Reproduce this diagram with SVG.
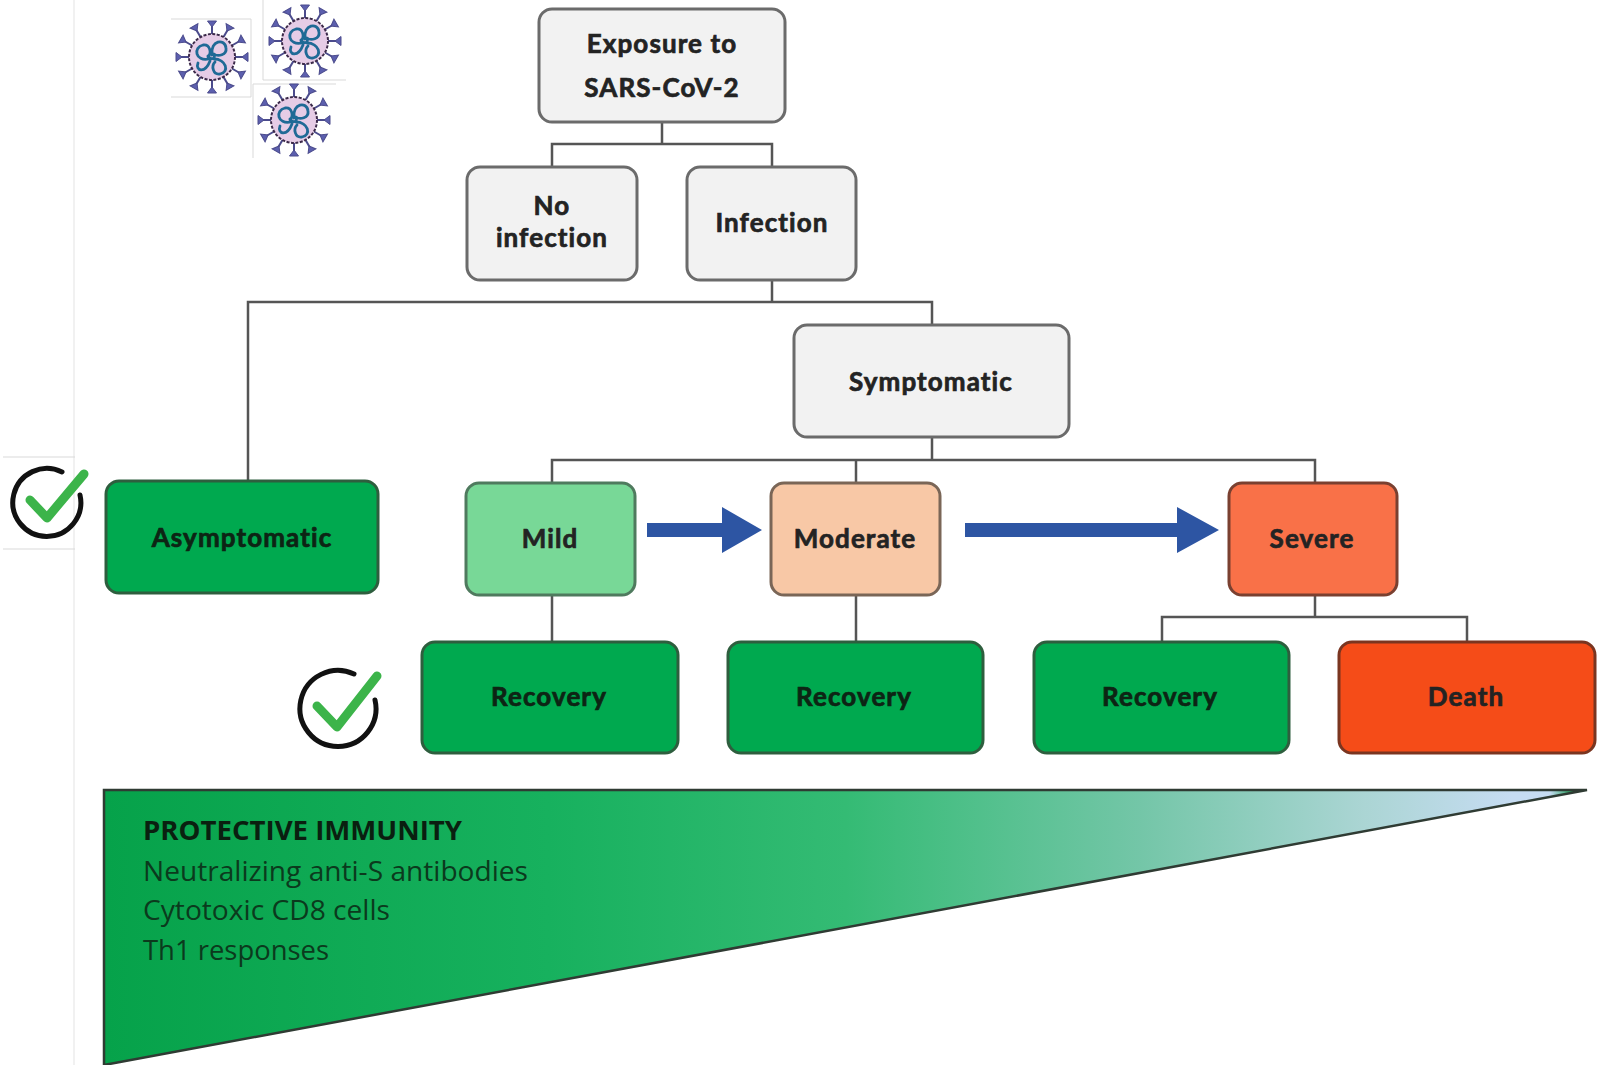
<svg xmlns="http://www.w3.org/2000/svg" width="1603" height="1065" viewBox="0 0 1603 1065">
  <style>
    .node-grey rect { fill: #f2f2f2; stroke: #6b6b6b; stroke-width: 3; }
    .node-green rect { fill: #00a94f; stroke: #2e5e3e; stroke-width: 3; }
    .node-mild rect { fill: #78d897; stroke: #4f7a5e; stroke-width: 3; }
    .node-moderate rect { fill: #f8c8a6; stroke: #7a6657; stroke-width: 3; }
    .node-severe rect { fill: #f97148; stroke: #7a4030; stroke-width: 3; }
    .node-death rect { fill: #f54c18; stroke: #7a3520; stroke-width: 3; }
    .label { font-family: "Lato", "Open Sans", "Liberation Sans", sans-serif; font-weight: 700; font-size: 26px; letter-spacing: 1.1px; fill: #232323; stroke: #232323; stroke-width: 0.7; text-anchor: middle; }
    .label-dark { fill: #0d2414; stroke: #0d2414; }
    .conn { fill: none; stroke: #555; stroke-width: 2.5; }
    .frame { fill: none; stroke: #d9d9d9; stroke-width: 1; }
    .imm { font-family: "Open Sans", "Liberation Sans", sans-serif; font-size: 27px; fill: #0b3a1d; }
    .imm-title { font-weight: 700; fill: #0a1f10; }
    .ring { fill: none; stroke: #111; stroke-width: 5; stroke-linecap: round; }
    .tick { fill: none; stroke: #3cb44a; stroke-width: 9; stroke-linecap: round; stroke-linejoin: round; }
  </style>
  <defs>
    <linearGradient id="immGrad" x1="104" y1="0" x2="1587" y2="0" gradientUnits="userSpaceOnUse">
      <stop offset="0" stop-color="#06a24a"/>
      <stop offset="0.3" stop-color="#17b15e"/>
      <stop offset="0.5" stop-color="#34bb74"/>
      <stop offset="0.7" stop-color="#74c6a8"/>
      <stop offset="0.85" stop-color="#abd5d4"/>
      <stop offset="0.95" stop-color="#c6dcf2"/>
      <stop offset="0.975" stop-color="#c6dcf2"/>
      <stop offset="0.99" stop-color="#1d9e55"/>
      <stop offset="1" stop-color="#1d9e55"/>
    </linearGradient>
    <g id="virus">
      <g stroke="#4b4b8c" stroke-width="2" fill="#5c5fae">
        <g id="spike">
          <line x1="0" y1="-23" x2="0" y2="-31"/>
          <path d="M0 -30 L-4.5 -36 L4.5 -36 Z" stroke-width="1"/>
        </g>
        <use href="#spike" transform="rotate(30)"/>
        <use href="#spike" transform="rotate(60)"/>
        <use href="#spike" transform="rotate(90)"/>
        <use href="#spike" transform="rotate(120)"/>
        <use href="#spike" transform="rotate(150)"/>
        <use href="#spike" transform="rotate(180)"/>
        <use href="#spike" transform="rotate(210)"/>
        <use href="#spike" transform="rotate(240)"/>
        <use href="#spike" transform="rotate(270)"/>
        <use href="#spike" transform="rotate(300)"/>
        <use href="#spike" transform="rotate(330)"/>
      </g>
      <circle r="23" fill="#e6cce6" stroke="#3c2a4a" stroke-width="2" stroke-dasharray="3 1.5"/>
      <g fill="none" stroke="#1f6a96" stroke-width="2.8" stroke-linecap="round">
        <path d="M-3 2 C-17 5 -19 -10 -9 -12 C-2 -13 0 -4 -4 0"/>
        <path d="M0 -2 C-2 -17 13 -19 14 -9 C15 -2 6 0 2 -3"/>
        <path d="M2 2 C14 2 18 15 8 17 C1 18 -1 9 3 5"/>
        <path d="M-2 4 C-7 17 -17 14 -14 6"/>
        <path d="M-4 -1 C-1 4 4 1 2 -2"/>
      </g>
    </g>
  </defs>

  <!-- page edge and icon frames -->
  <line x1="74" y1="0" x2="74" y2="1065" stroke="#ececec" stroke-width="1.5"/>
  <g id="virus-icons">
    <path class="frame" d="M171 19 H251 M171 97 H251 M251 19 V97"/>
    <path class="frame" d="M263 0 V80 H346"/>
    <path class="frame" d="M253 84 H336 M253 84 V158"/>
    <use href="#virus" transform="translate(212,57)"/>
    <use href="#virus" transform="translate(305,41)"/>
    <use href="#virus" transform="translate(294,120)"/>
  </g>

  <!-- connectors -->
  <g id="connectors">
    <path class="conn" d="M662 123 V144 M552 167 V144 H772 V167"/>
    <path class="conn" d="M772 280 V302 M248 481 V302 H932 V325"/>
    <path class="conn" d="M932 437 V460 M552 483 V460 H1315 V483 M856 460 V483"/>
    <path class="conn" d="M552 595 V642 M856 595 V642"/>
    <path class="conn" d="M1315 595 V617 M1162 642 V617 H1467 V642"/>
    <!-- progression arrows -->
    <path d="M647 523 H722 V507 L762 530 L722 553 V537 H647 Z" fill="#2d55a3"/>
    <path d="M965 523 H1177 V507 L1219 530 L1177 553 V537 H965 Z" fill="#2d55a3"/>
  </g>

  <!-- nodes -->
  <g id="exposure" class="node-grey">
    <rect x="539" y="9" width="246" height="113" rx="13"/>
    <text class="label" x="662" y="53">Exposure to</text>
    <text class="label" x="662" y="97">SARS-CoV-2</text>
  </g>
  <g id="no-infection" class="node-grey">
    <rect x="467" y="167" width="170" height="113" rx="13"/>
    <text class="label" x="552" y="215">No</text>
    <text class="label" x="552" y="247">infection</text>
  </g>
  <g id="infection" class="node-grey">
    <rect x="687" y="167" width="169" height="113" rx="13"/>
    <text class="label" x="772" y="232">Infection</text>
  </g>
  <g id="symptomatic" class="node-grey">
    <rect x="794" y="325" width="275" height="112" rx="13"/>
    <text class="label" x="931" y="391">Symptomatic</text>
  </g>
  <g id="asymptomatic" class="node-green">
    <rect x="106" y="481" width="272" height="112" rx="13"/>
    <text class="label label-dark" x="242" y="547">Asymptomatic</text>
  </g>
  <g id="mild" class="node-mild">
    <rect x="466" y="483" width="169" height="112" rx="13"/>
    <text class="label" x="550" y="548">Mild</text>
  </g>
  <g id="moderate" class="node-moderate">
    <rect x="771" y="483" width="169" height="112" rx="13"/>
    <text class="label" x="855" y="548">Moderate</text>
  </g>
  <g id="severe" class="node-severe">
    <rect x="1229" y="483" width="168" height="112" rx="13"/>
    <text class="label" x="1312" y="548">Severe</text>
  </g>
  <g id="recovery-mild" class="node-green">
    <rect x="422" y="642" width="256" height="111" rx="13"/>
    <text class="label label-dark" x="549" y="706">Recovery</text>
  </g>
  <g id="recovery-moderate" class="node-green">
    <rect x="728" y="642" width="255" height="111" rx="13"/>
    <text class="label label-dark" x="854" y="706">Recovery</text>
  </g>
  <g id="recovery-severe" class="node-green">
    <rect x="1034" y="642" width="255" height="111" rx="13"/>
    <text class="label label-dark" x="1160" y="706">Recovery</text>
  </g>
  <g id="death" class="node-death">
    <rect x="1339" y="642" width="256" height="111" rx="13"/>
    <text class="label" x="1466" y="706">Death</text>
  </g>

  <!-- check marks -->
  <g id="check-asymptomatic">
    <path class="frame" d="M3 457 H75 M3 549 H75"/>
    <path class="ring" d="M80 495 A34 34 0 1 1 62 472"/>
    <path class="tick" d="M30 500 L47 518 L84 474"/>
  </g>
  <g id="check-recovery">
    <path class="ring" d="M375 700 A38 38 0 1 1 354 674"/>
    <path class="tick" d="M317 706 L337 727 L377 676"/>
  </g>

  <!-- protective immunity wedge -->
  <g id="immunity">
    <path d="M104 790 H1587 L104 1065 Z" fill="url(#immGrad)" stroke="#2f3b33" stroke-width="2.5" stroke-linejoin="miter"/>
    <text class="imm imm-title" x="143" y="840" textLength="319" lengthAdjust="spacingAndGlyphs">PROTECTIVE IMMUNITY</text>
    <text class="imm" x="143" y="881" textLength="385" lengthAdjust="spacingAndGlyphs">Neutralizing anti-S antibodies</text>
    <text class="imm" x="143" y="920" textLength="247" lengthAdjust="spacingAndGlyphs">Cytotoxic CD8 cells</text>
    <text class="imm" x="143" y="960" textLength="186" lengthAdjust="spacingAndGlyphs">Th1 responses</text>
  </g>
</svg>
